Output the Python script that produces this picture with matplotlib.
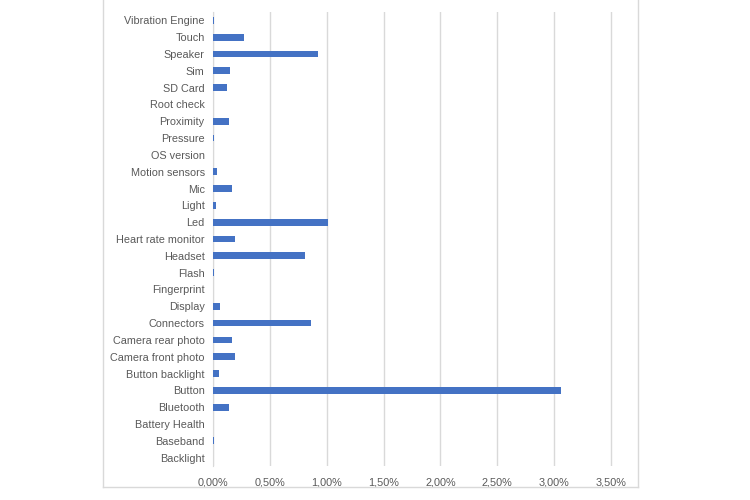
import matplotlib
matplotlib.use("Agg")
import matplotlib.pyplot as plt
from matplotlib.lines import Line2D
from matplotlib.ticker import FuncFormatter

categories = ["Backlight", "Baseband", "Battery Health", "Bluetooth", "Button",
              "Button backlight", "Camera front photo", "Camera rear photo",
              "Connectors", "Display", "Fingerprint", "Flash", "Headset",
              "Heart rate monitor", "Led", "Light", "Mic", "Motion sensors",
              "OS version", "Pressure", "Proximity", "Root check", "SD Card",
              "Sim", "Speaker", "Touch", "Vibration Engine"]
values = [0.0, 0.01, 0.0, 0.137, 3.06,
          0.053, 0.19, 0.17,
          0.866, 0.06, 0.0, 0.01, 0.805,
          0.19, 1.015, 0.026, 0.167, 0.038,
          0.0, 0.01, 0.137, 0.0, 0.12,
          0.147, 0.92, 0.27, 0.01]
xticks = [0, 0.5, 1.0, 1.5, 2.0, 2.5, 3.0, 3.5]

plt.rcParams['font.family'] = ['Liberation Sans', 'DejaVu Sans']

fig = plt.figure(figsize=(7.5, 5), dpi=100)
n = len(categories)
ax = fig.add_axes([213/750, 1 - 466/500, (614-213)/750, (466-12)/500])
ax.barh(range(n), values, height=0.4, color="#4472C4", zorder=3)
ax.set_xlim(0, 3.5 * 401 / 398)
ax.set_ylim(-0.5, n - 0.5)
ax.set_yticks(range(n))
ax.set_yticklabels(categories)
ax.set_xticks(xticks)
ax.xaxis.set_major_formatter(FuncFormatter(lambda v, p: f"{v:.2f}%".replace(".", ",")))
ax.grid(axis="x", color="#D9D9D9", linewidth=1, zorder=0)
for s in ["top", "right", "bottom"]:
    ax.spines[s].set_visible(False)
ax.spines["left"].set_color("#D9D9D9")
ax.tick_params(axis="both", length=0, colors="#595959", labelsize=7.8)
ax.tick_params(axis="y", pad=6)
ax.tick_params(axis="x", pad=8)

# chart border
bc = "#D9D9D9"
x0, x1, yb = 103/750, 638/750, 1 - 487/500
fig.add_artist(Line2D([x0, x0], [yb, 1], transform=fig.transFigure, color=bc, lw=1))
fig.add_artist(Line2D([x1, x1], [yb, 1], transform=fig.transFigure, color=bc, lw=1))
fig.add_artist(Line2D([x0, x1], [yb, yb], transform=fig.transFigure, color=bc, lw=1))

fig.savefig("out.png", dpi=100)
